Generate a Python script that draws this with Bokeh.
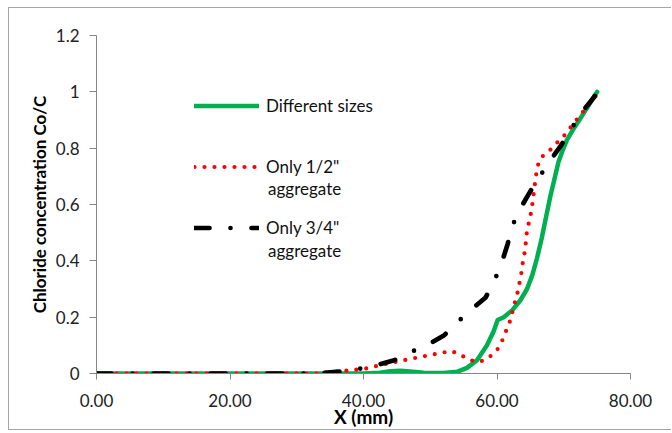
import numpy as np
from bokeh.plotting import figure
from bokeh.models import Legend, LegendItem, FixedTicker, Label, Range1d, Title
from bokeh.embed import file_html
from bokeh.resources import INLINE

# ---- data ----
x_green = [0, 5, 10, 15, 20, 25, 30, 35, 40, 42.5, 44, 45.5, 47, 49, 52, 54, 55.5, 57, 58.5,
           59.5, 60.1, 61, 62.3, 63.5, 64.5, 65.3, 66, 66.7, 67.3, 68, 68.6, 69.2, 69.8,
           70.5, 71.5, 72.6, 73.8, 75]
y_green = [0, 0, 0, 0, 0, 0, 0, 0, 0.0, 0.003, 0.008, 0.01, 0.007, 0.003, 0.002, 0.006, 0.02,
           0.047, 0.10, 0.15, 0.19, 0.20, 0.225, 0.26, 0.30, 0.35, 0.41, 0.48, 0.55, 0.63,
           0.69, 0.75, 0.79, 0.83, 0.87, 0.91, 0.955, 1.0]

x_red = [0, 5, 10, 15, 20, 25, 30, 33, 35, 37.5, 40, 42.6, 45.6, 48.6, 51.6, 53.2, 54.6, 56.0,
         57.4, 58.8, 60.0, 60.7, 61.3, 61.9, 62.3, 62.7, 63.1, 63.4, 63.7, 63.9, 64.2, 64.5,
         64.9, 65.2, 65.4, 65.6, 65.8, 66.0, 66.5, 67.7, 68.8, 69.9, 71.9, 74.8, 75]
y_red = [0, 0, 0, 0, 0, 0, 0, 0, 0.005, 0.01, 0.016, 0.03, 0.045, 0.059, 0.073, 0.08, 0.065,
         0.047, 0.041, 0.057, 0.083, 0.112, 0.148, 0.183, 0.218, 0.254, 0.289, 0.325, 0.364,
         0.40, 0.437, 0.51, 0.547, 0.584, 0.62, 0.659, 0.694, 0.73, 0.765, 0.787, 0.815,
         0.84, 0.90, 0.985, 1.0]

x_black = [0, 5, 10, 15, 20, 25, 30, 33, 35, 37, 39.2, 42, 44.6, 47.2, 50, 52.1, 54.3, 56.3,
           58.3, 59.7, 60.8, 61.6, 62.3, 63.6, 64.9, 66.4, 68.1, 69.6, 71.1, 72.8, 74.5, 75]
y_black = [0, 0, 0, 0, 0, 0, 0, 0, 0.004, 0.008, 0.016, 0.03, 0.047, 0.077, 0.107, 0.136,
           0.187, 0.23, 0.27, 0.334, 0.40, 0.46, 0.525, 0.59, 0.643, 0.70, 0.76, 0.81, 0.868,
           0.93, 0.98, 1.0]

legend_first_lines = ["Different sizes", "Only 1/2\"", "Only 3/4\""]
legend_second_lines = ["", "aggregate", "aggregate"]

x_ticks = [0, 20, 40, 60, 80]
x_tick_labels = ["0.00", "20.00", "40.00", "60.00", "80.00"]
y_ticks = [0, 0.2, 0.4, 0.6, 0.8, 1, 1.2]
y_tick_labels = ["0", "0.2", "0.4", "0.6", "0.8", "1", "1.2"]

x_title = "X (mm)"
y_title = "Chloride concentration Co/C"

FONT = "Lato"
AXIS_GRAY = "#868686"
BORDER = "1px solid #a6a6a6"

p = figure(width=663, height=423, output_backend="svg", toolbar_location=None,
           x_range=Range1d(0, 80), y_range=Range1d(0, 1.2),
           min_border_left=87, min_border_right=42, min_border_top=27, min_border_bottom=58)
p.styles = {"margin-left": "8px", "margin-top": "7px",
            "border-left": BORDER, "border-top": BORDER, "border-bottom": BORDER}
p.outline_line_color = None
p.xgrid.visible = False
p.ygrid.visible = False
p.background_fill_color = "white"
p.border_fill_color = "white"

r_green = p.line(x_green, y_green, line_color="#00B050", line_width=4.5,
                 line_cap="round", line_join="round")
r_red = p.line(x_red, y_red, line_color="#FF0000", line_width=4.2,
               line_dash="0 10", line_cap="round", line_join="round")
r_black = p.line(x_black, y_black, line_color="#000000", line_width=4.7,
                 line_dash="15 21 0 21", line_cap="round", line_join="round")

# axes
for ax in (p.xaxis[0], p.yaxis[0]):
    ax.axis_line_color = AXIS_GRAY
    ax.major_tick_line_color = AXIS_GRAY
    ax.minor_tick_line_color = None
    ax.major_tick_in = 0
    ax.major_label_text_font = FONT
    ax.major_label_text_font_size = "17px"
    ax.major_label_text_color = "#222222"

p.xaxis.major_tick_out = 6
p.yaxis.major_tick_out = 7
p.xaxis.ticker = FixedTicker(ticks=x_ticks)
p.xaxis.major_label_overrides = {t: l for t, l in zip(x_ticks, x_tick_labels)}
p.yaxis.ticker = FixedTicker(ticks=y_ticks)
p.yaxis.major_label_overrides = {t: l for t, l in zip(y_ticks, y_tick_labels)}
p.xaxis.major_label_standoff = 14
p.yaxis.major_label_standoff = 10

p.xaxis.axis_label = x_title
p.xaxis.axis_label_text_font = FONT
p.xaxis.axis_label_text_font_style = "bold"
p.xaxis.axis_label_text_font_size = "19px"
p.xaxis.axis_label_text_color = "black"
p.xaxis.axis_label_standoff = -5

ytitle = Title(text=y_title, align="center", offset=40, standoff=6,
               text_font=FONT, text_font_style="bold", text_font_size="17px",
               text_color="black")
p.add_layout(ytitle, "left")

legend = Legend(items=[LegendItem(label=legend_first_lines[i], renderers=[r])
                       for i, r in enumerate([r_green, r_red, r_black])],
                location=(98, 135), glyph_width=65, glyph_height=21, label_height=21,
                label_standoff=7, spacing=40, padding=0, margin=0,
                border_line_color=None, background_fill_alpha=0,
                label_text_font=FONT, label_text_font_size="17px",
                label_text_color="#111111")
p.add_layout(legend)

# second lines of the wrapped legend labels
for txt, yv in zip(legend_second_lines[1:], [0.656, 0.437]):
    p.add_layout(Label(x=25.7, y=yv, text=txt, text_align="left", text_baseline="middle",
                       text_font=FONT, text_font_size="17px", text_color="#111111"))

open("out.html", "w").write(file_html(p, INLINE))
